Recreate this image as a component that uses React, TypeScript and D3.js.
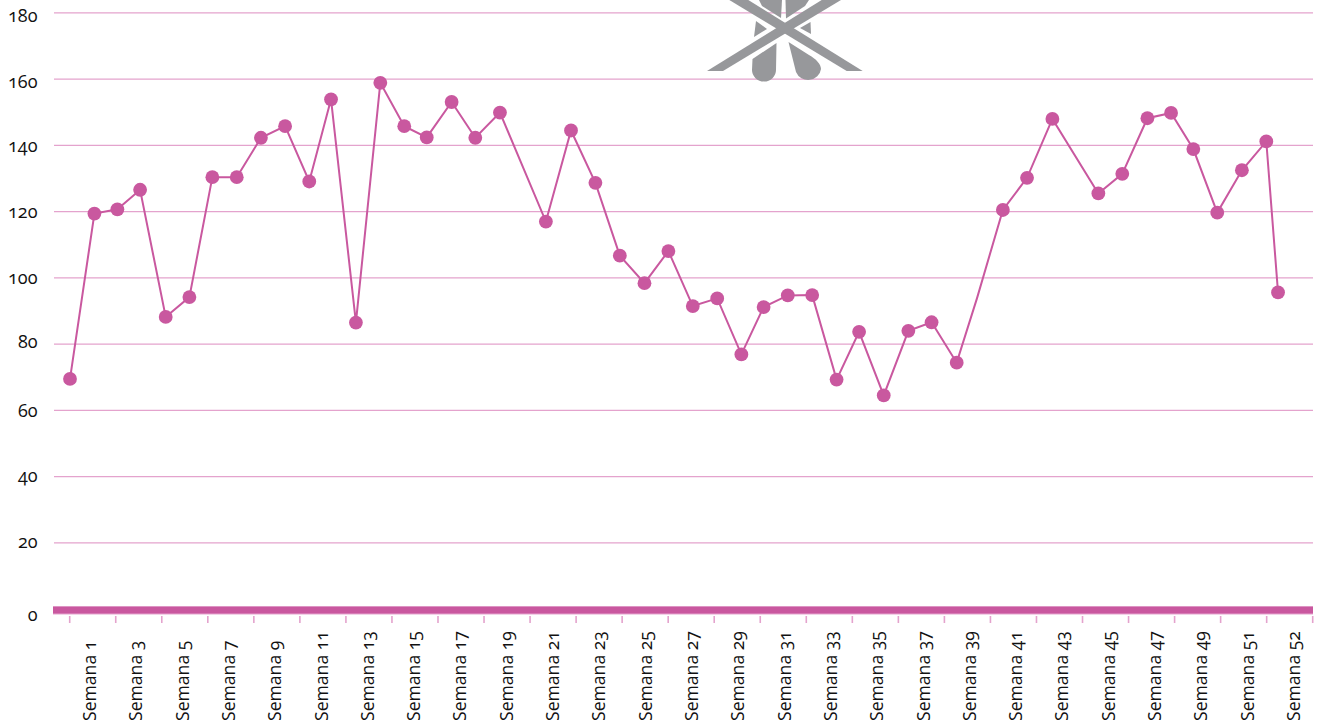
import React, { useRef, useEffect } from "react";
import * as d3 from "d3";

const yTicks = [0, 20, 40, 60, 80, 100, 120, 140, 160, 180];

const tickLabels = [
  "Semana 1", "Semana 3", "Semana 5", "Semana 7", "Semana 9", "Semana 11", "Semana 13",
  "Semana 15", "Semana 17", "Semana 19", "Semana 21", "Semana 23", "Semana 25", "Semana 27",
  "Semana 29", "Semana 31", "Semana 33", "Semana 35", "Semana 37", "Semana 39", "Semana 41",
  "Semana 43", "Semana 45", "Semana 47", "Semana 49", "Semana 51", "Semana 52",
];

// week position along the axis (the weeks are not evenly spaced there)
const weeks = [
  1, 2.02, 2.98, 3.93, 5, 5.99, 6.95, 7.97, 8.98, 9.99, 11, 11.91, 12.95, 13.97, 14.97, 15.91,
  16.95, 17.94, 18.97, 20.89, 21.94, 22.96, 23.98, 25.01, 26.01, 27.03, 28.05, 29.06, 29.99, 31,
  32.02, 33.04, 33.98, 35.01, 36.04, 37.01, 38.06, 38.91, 39.99, 41, 42.06, 43.98, 44.98, 46.03,
  47.02, 47.95, 48.95, 49.98, 51, 51.49,
];

const values = [
  69.5, 119.4, 120.7, 126.6, 88.2, 94.2, 130.4, 130.4, 142.3, 145.8, 129.1, 153.9, 86.5, 158.9,
  145.8, 142.4, 153.1, 142.3, 149.9, 117, 144.5, 128.7, 106.7, 98.4, 108.1, 91.5, 93.8, 76.9, 91.2,
  94.7, 94.8, 69.3, 83.7, 64.5, 84, 86.6, 74.4, 93.9, 120.5, 130.2, 148, 125.5, 131.4, 148.2, 149.8,
  138.9, 119.7, 132.5, 141.2, 95.6,
];

// this week has a line vertex in the picture but no dot
const noDotWeeks = [38.91];

const pink = "#c9589f";
const gridPink = "#e4a3cd";
const grey = "#97989b";
const font = "'Open Sans', 'Noto Sans', sans-serif";

const App = () => {
  const ref = useRef<SVGSVGElement>(null);
  const width = 1319;
  const height = 726;

  useEffect(() => {
    const svg = d3.select(ref.current);
    svg.selectAll("*").remove();

    const yScale = d3.scaleLinear().domain([0, 180]).range([609.1, 12.9]);
    // the labels were placed by hand in the original, so their baselines drift against the grid
    const yLabel = d3
      .scaleLinear()
      .domain(yTicks)
      .range([620.7, 548.3, 481.7, 416.7, 348.3, 284.3, 218.3, 151.7, 87.7, 21.7]);
    const xScale = d3.scaleLinear().domain([1, 51]).range([70, 1266.3]);
    const band = d3.scaleBand().domain(tickLabels).range([69.7, 1312.7]);
    const xLabel = d3.scalePoint().domain(tickLabels).range([96, 1300]);

    // grid
    svg
      .append("g")
      .selectAll("line")
      .data(yTicks.filter((d) => d > 0))
      .enter()
      .append("line")
      .attr("x1", 54)
      .attr("x2", 1313)
      .attr("y1", (d) => yScale(d))
      .attr("y2", (d) => yScale(d))
      .attr("stroke", gridPink)
      .attr("stroke-width", 1.2);

    // logo, cut off by the top of the page
    const logo = svg.append("g").attr("fill", grey);
    const legs = [
      "M759,0 L782,0 L781,18 L762,6 Z",
      "M785.5,0 L809,0 L805,6 L786,18.5 Z",
      "M756,21 L754,37 L767,29 Z",
      "M810.5,22 L811,34 L800,28 Z",
      "M776.5,43 L752.5,59 L752,70 A12,11.5 0 0 0 776,70 Z",
      "M788.5,42 L809,55 C816,59 821,64 821,69 A13,12.5 0 0 1 796,72 Z",
    ];
    logo.selectAll("path").data(legs).enter().append("path").attr("d", (d) => d);
    logo.append("path").attr("d", "M707,71 L723,71 L841,0 L821.7,0 Z");
    logo.append("path").attr("d", "M846.7,71 L862.7,71 L748.3,0 L729.3,0 Z");

    // y labels
    svg
      .append("g")
      .selectAll("text")
      .data(yTicks)
      .enter()
      .append("text")
      .attr("x", 37.5)
      .attr("y", (d) => yLabel(d))
      .attr("text-anchor", "end")
      .attr("font-family", font)
      .attr("font-size", 18)
      .style("font-variant-numeric", "oldstyle-nums")
      .attr("fill", "#111")
      .text((d) => d);

    // baseline
    svg
      .append("rect")
      .attr("x", 53)
      .attr("y", 606.5)
      .attr("width", 1260)
      .attr("height", 8)
      .attr("fill", gridPink);
    svg
      .append("rect")
      .attr("x", 53)
      .attr("y", 606.5)
      .attr("width", 1260)
      .attr("height", 7)
      .attr("fill", pink);

    // ticks
    const tickEdges = [...tickLabels.map((d) => band(d)), band.range()[1]];
    svg
      .append("g")
      .selectAll("line")
      .data(tickEdges)
      .enter()
      .append("line")
      .attr("x1", (d) => d)
      .attr("x2", (d) => d)
      .attr("y1", 616)
      .attr("y2", 623)
      .attr("stroke", gridPink)
      .attr("stroke-width", 1.6);

    svg
      .append("g")
      .selectAll("text")
      .data(tickLabels)
      .enter()
      .append("text")
      .attr("transform", (d) => `translate(${xLabel(d)},721) rotate(-90)`)
      .attr("font-family", font)
      .attr("font-size", 17.6)
      .style("font-variant-numeric", "oldstyle-nums")
      .attr("fill", "#111")
      .text((d) => d);

    // series
    const points = weeks.map((w, i) => ({ week: w, value: values[i] }));
    const line = d3
      .line<{ week: number; value: number }>()
      .x((d) => xScale(d.week))
      .y((d) => yScale(d.value));
    svg
      .append("path")
      .datum(points)
      .attr("d", line)
      .attr("fill", "none")
      .attr("stroke", pink)
      .attr("stroke-width", 2);
    svg
      .append("g")
      .selectAll("circle")
      .data(points.filter((d) => !noDotWeeks.includes(d.week)))
      .enter()
      .append("circle")
      .attr("cx", (d) => xScale(d.week))
      .attr("cy", (d) => yScale(d.value))
      .attr("r", 6.9)
      .attr("fill", pink);
  }, []);

  return (
    <svg
      ref={ref}
      width={width}
      height={height}
      style={{ position: "absolute", left: 0, top: 0, background: "#fff" }}
    ></svg>
  );
};

export default App;
